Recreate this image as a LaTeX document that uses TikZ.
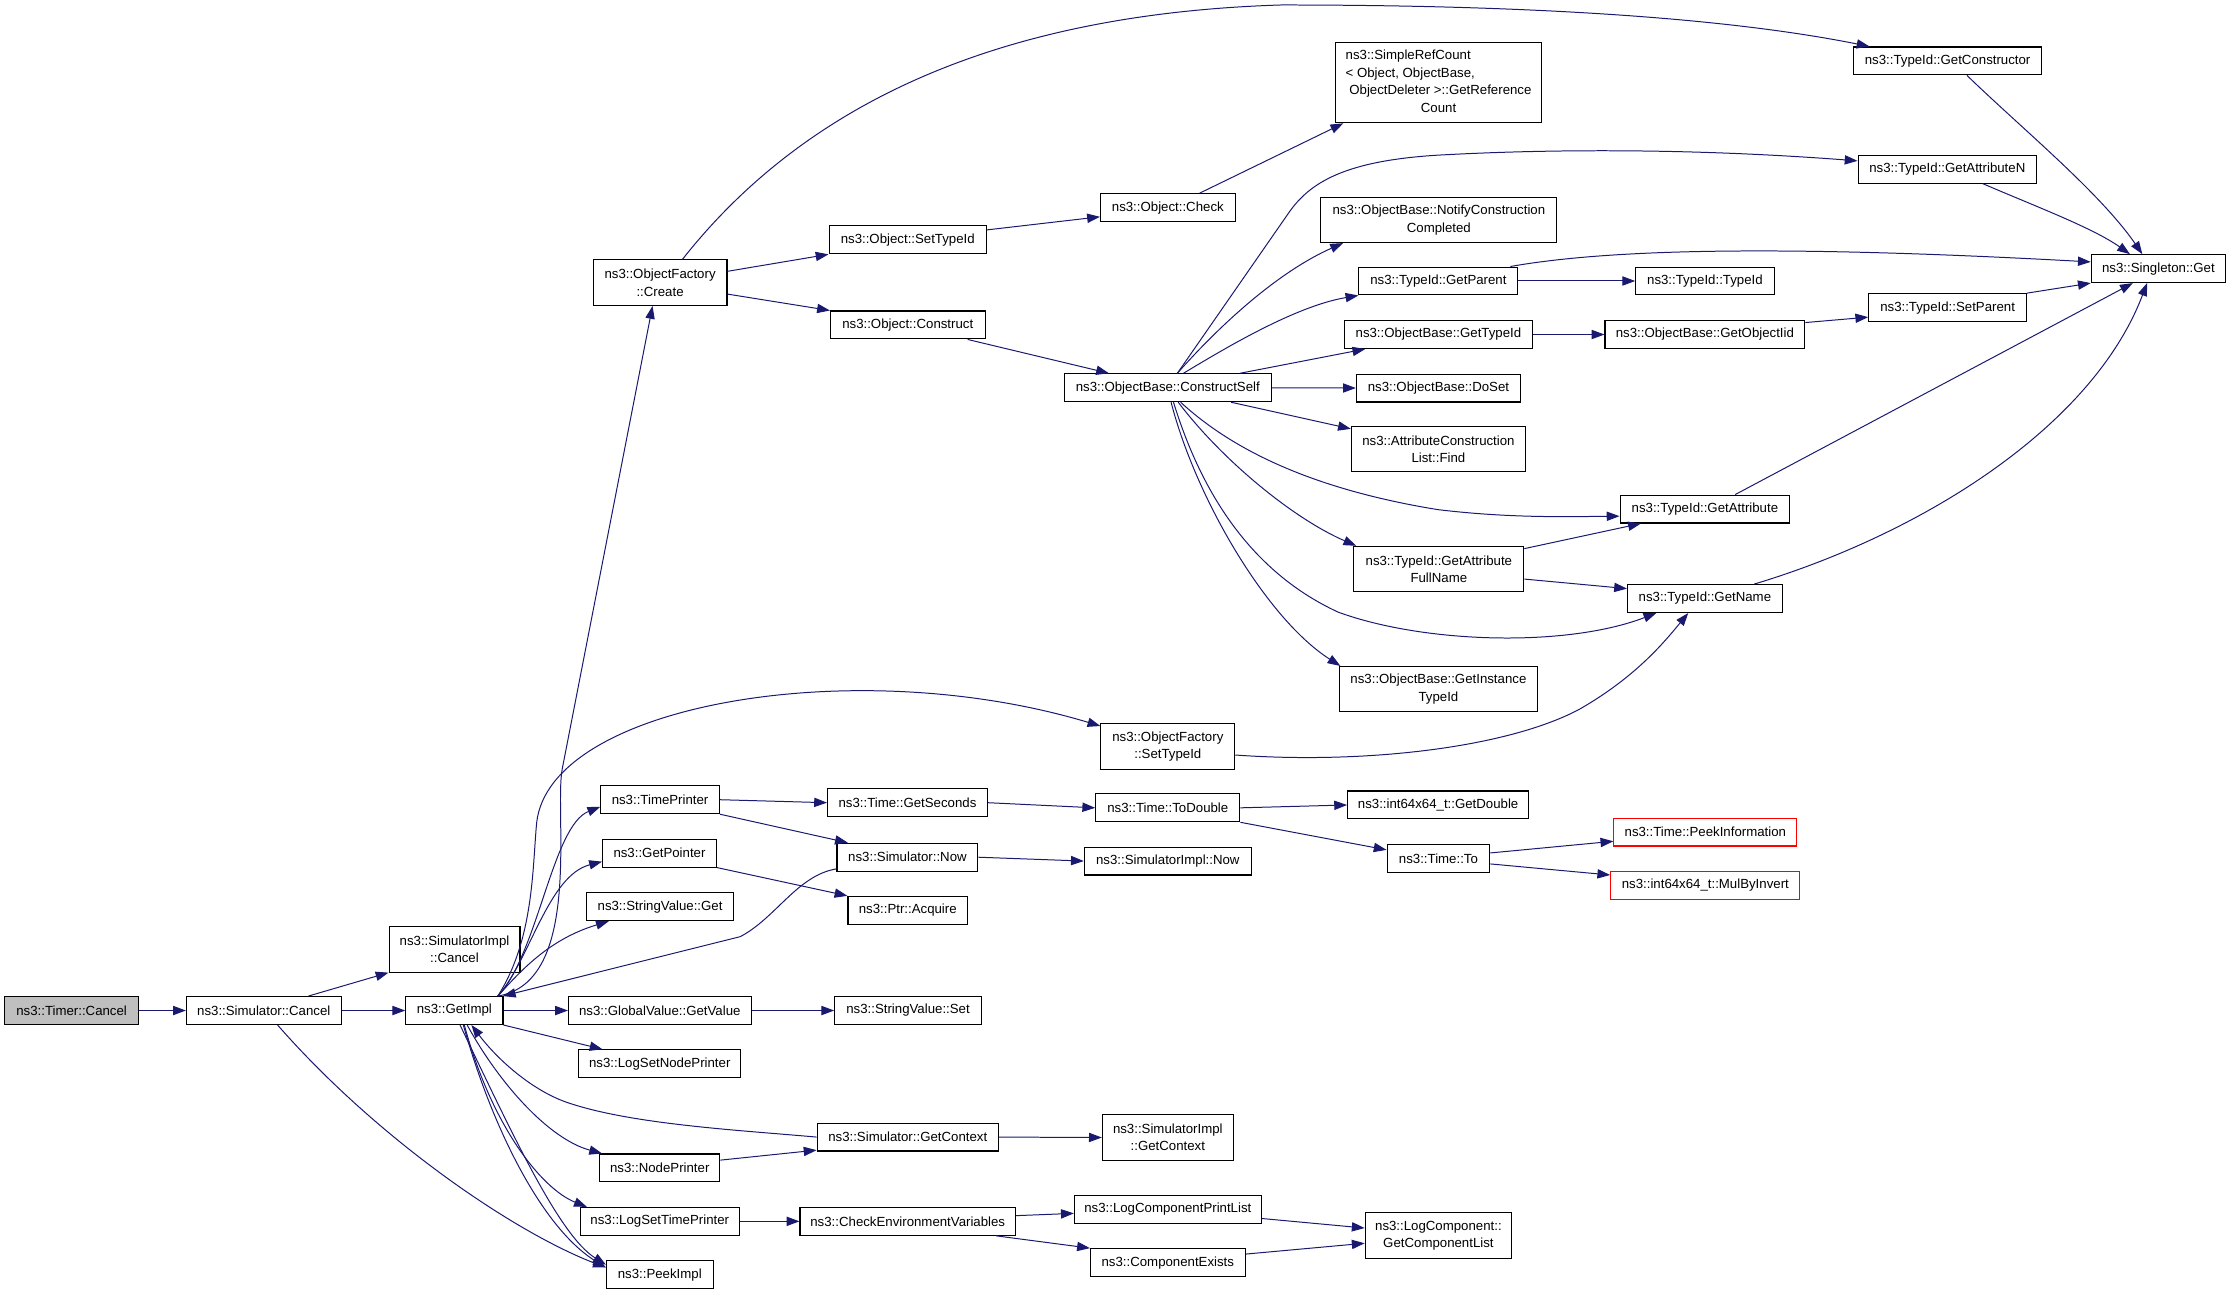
\documentclass[tikz,border=0pt]{standalone}
\usepackage{xcolor}
\usepackage{fontspec}
\setmainfont{Liberation Sans}
\usepackage{tikz}
\usetikzlibrary{arrows.meta,positioning}

\definecolor{edgeblue}{HTML}{191970}
\definecolor{rootgray}{HTML}{BFBFBF}

\begin{document}
\begin{tikzpicture}[x=1pt,y=-1pt]
  \tikzset{fnode/.style={draw=black,line width=0.75pt,rectangle,inner sep=2pt,
             minimum height=19.6pt,align=center,
             font=\fontsize{9.3pt}{12.2pt}\selectfont}}
  \tikzset{rootnode/.style={fnode,fill=rootgray}}
  \tikzset{trunc/.style={fnode,draw=red}}
  \tikzset{callarrow/.style={draw=edgeblue,line width=0.7pt,
             -{Triangle[length=9pt,width=6.5pt]}}}
  \useasboundingbox (0,0) rectangle (1568,909.7);

  % column 1-3
  \node[rootnode,minimum width=94pt] (timer) at (50.3,709.9) {ns3::Timer::Cancel};
  \node[fnode,minimum width=108.7pt] (simcancel) at (185.3,709.9) {ns3::Simulator::Cancel};
  \node[fnode,minimum width=92pt,minimum height=31.8pt] (implcancel) at (319.3,667) {ns3::SimulatorImpl\\::Cancel};
  \node[fnode,minimum width=68.3pt] (getimpl) at (319.2,709.9) {ns3::GetImpl};

  % column 4
  \node[fnode,minimum width=94pt,minimum height=32pt] (ofcreate) at (463.7,198.6) {ns3::ObjectFactory\\::Create};
  \node[fnode,minimum width=83.3pt] (timeprinter) at (463.7,561.8) {ns3::TimePrinter};
  \node[fnode,minimum width=80pt] (getpointer) at (463.3,599.3) {ns3::GetPointer};
  \node[fnode,minimum width=103.3pt] (svget) at (463.7,637) {ns3::StringValue::Get};
  \node[fnode,minimum width=128.3pt] (globalvalue) at (463.5,709.9) {ns3::GlobalValue::GetValue};
  \node[fnode,minimum width=113.7pt] (logsetnode) at (463.5,747.3) {ns3::LogSetNodePrinter};
  \node[fnode,minimum width=84.3pt] (nodeprinter) at (463.5,820.5) {ns3::NodePrinter};
  \node[fnode,minimum width=111.7pt] (logsettime) at (463.5,858) {ns3::LogSetTimePrinter};
  \node[fnode,minimum width=75pt] (peekimpl) at (463.5,895.6) {ns3::PeekImpl};

  % column 5
  \node[fnode,minimum width=110.6pt] (objsettypeid) at (637.7,168.5) {ns3::Object::SetTypeId};
  \node[fnode,minimum width=108.6pt] (objconstruct) at (637.7,228.3) {ns3::Object::Construct};
  \node[fnode,minimum width=112.3pt] (getseconds) at (637.5,563.9) {ns3::Time::GetSeconds};
  \node[fnode,minimum width=99pt] (simnow) at (637.5,602.2) {ns3::Simulator::Now};
  \node[fnode,minimum width=84pt] (ptracquire) at (637.7,639.5) {ns3::Ptr::Acquire};
  \node[fnode,minimum width=103pt] (svset) at (637.9,709.9) {ns3::StringValue::Set};
  \node[fnode,minimum width=127.4pt] (getcontext) at (637.7,798.8) {ns3::Simulator::GetContext};
  \node[fnode,minimum width=151.4pt] (checkenv) at (637.7,858) {ns3::CheckEnvironmentVariables};

  % column 6
  \node[fnode,minimum width=94.6pt] (objcheck) at (820.4,145.9) {ns3::Object::Check};
  \node[fnode,minimum width=145.3pt] (constructself) at (820.4,272.4) {ns3::ObjectBase::ConstructSelf};
  \node[fnode,minimum width=94pt,minimum height=32pt] (ofsettypeid) at (820.4,524.4) {ns3::ObjectFactory\\::SetTypeId};
  \node[fnode,minimum width=101.3pt] (todouble) at (820.4,567.5) {ns3::Time::ToDouble};
  \node[fnode,minimum width=117.3pt] (simimplnow) at (820.4,604.9) {ns3::SimulatorImpl::Now};
  \node[fnode,minimum width=92pt,minimum height=31.8pt] (simimplgetcontext) at (820.4,799.1) {ns3::SimulatorImpl\\::GetContext};
  \node[fnode,minimum width=131.3pt] (logcompprint) at (820.4,849.4) {ns3::LogComponentPrintList};
  \node[fnode,minimum width=108.7pt] (compexists) at (820.4,887) {ns3::ComponentExists};

  % column 7
  \node[fnode,minimum width=145.1pt,minimum height=56.5pt] (simplerefcount) at (1010.6,58)
    {\begin{tabular}{@{}l@{}}ns3::SimpleRefCount\\< Object, ObjectBase,\\\ ObjectDeleter >::GetReference\\\multicolumn{1}{@{}c@{}}{Count}\end{tabular}};
  \node[fnode,minimum width=165.9pt,minimum height=31.8pt] (notify) at (1010.8,154.5) {ns3::ObjectBase::NotifyConstruction\\Completed};
  \node[fnode,minimum width=111.7pt] (getparent) at (1010.5,197.4) {ns3::TypeId::GetParent};
  \node[fnode,minimum width=132pt] (obgettypeid) at (1010.5,235) {ns3::ObjectBase::GetTypeId};
  \node[fnode,minimum width=115.3pt] (doset) at (1010.5,272.6) {ns3::ObjectBase::DoSet};
  \node[fnode,minimum width=122.3pt,minimum height=31.7pt] (attrfind) at (1010.5,315.5) {ns3::AttributeConstruction\\List::Find};
  \node[fnode,minimum width=119.3pt,minimum height=32pt] (fullname) at (1010.8,399.8) {ns3::TypeId::GetAttribute\\FullName};
  \node[fnode,minimum width=139pt,minimum height=31.8pt] (instancetypeid) at (1010.5,484.1) {ns3::ObjectBase::GetInstance\\TypeId};
  \node[fnode,minimum width=127.2pt] (getdouble) at (1010.3,565.5) {ns3::int64x64\_t::GetDouble};
  \node[fnode,minimum width=72.1pt] (timeto) at (1010.5,603.2) {ns3::Time::To};
  \node[fnode,minimum width=102.9pt,minimum height=31.8pt] (getcomplist) at (1010.5,867.9) {ns3::LogComponent::\\GetComponentList};

  % column 8-9
  \node[fnode,minimum width=132pt] (getconstructor) at (1368.2,42.8) {ns3::TypeId::GetConstructor};
  \node[fnode,minimum width=125.4pt] (getattrn) at (1368,118.8) {ns3::TypeId::GetAttributeN};
  \node[fnode,minimum width=97.2pt] (typeidtypeid) at (1197.7,197.4) {ns3::TypeId::TypeId};
  \node[fnode,minimum width=140.4pt] (getobjectiid) at (1197.7,235) {ns3::ObjectBase::GetObjectIid};
  \node[fnode,minimum width=110.8pt] (setparent) at (1368.2,216.1) {ns3::TypeId::SetParent};
  \node[fnode,minimum width=119.2pt] (getattribute) at (1197.7,357.6) {ns3::TypeId::GetAttribute};
  \node[fnode,minimum width=108.7pt] (getname) at (1197.7,420.5) {ns3::TypeId::GetName};
  \node[fnode,minimum width=94.3pt] (singleton) at (1516.3,188.7) {ns3::Singleton::Get};
  \node[trunc,minimum width=128.5pt] (peekinfo) at (1198,584.5) {ns3::Time::PeekInformation};
  \node[trunc,minimum width=132.9pt] (mulbyinvert) at (1198,621.9) {ns3::int64x64\_t::MulByInvert};

  % Timer::Cancel, Simulator::Cancel
  \draw[callarrow] (timer.east) -- (simcancel.west);
  \draw[callarrow] ([xshift=31.4pt]simcancel.north) -- (implcancel.south west);
  \draw[callarrow] (simcancel.east) -- (getimpl.west);
  \draw[callarrow] ([xshift=9.7pt]simcancel.south) .. controls (265,800) and (360,865) .. ([yshift=-5pt]peekimpl.north west);

  % GetImpl, upwards
  \draw[callarrow] ([xshift=-4pt]getimpl.north east) .. controls (410,690) and (389,571) .. (395,540)
    -- ([xshift=-5.3pt]ofcreate.south);
  \draw[callarrow] ([xshift=-4pt]getimpl.north east) .. controls (375,660) and (374,610) .. (377,578)
    .. controls (386,495) and (600,458) .. ([yshift=-2pt]ofsettypeid.north west);
  \draw[callarrow] ([xshift=-4pt]getimpl.north east) .. controls (378,670) and (388,580) .. ([yshift=-5pt]timeprinter.west);
  \draw[callarrow] ([xshift=-4pt]getimpl.north east) .. controls (372,675) and (385,615) .. ([yshift=-6pt]getpointer.west);
  \draw[callarrow] ([xshift=-4pt]getimpl.north east) .. controls (365,683) and (385,660) .. ([xshift=16pt]svget.south west);
  \draw[callarrow] ([yshift=2pt]simnow.south west) .. controls (560,615) and (545,645) .. (520,658)
    -- ([xshift=-0.5pt]getimpl.north east);

  % GetImpl, sideways and downwards
  \draw[callarrow] (getimpl.east) -- (globalvalue.west);
  \draw[callarrow] (getimpl.south east) -- ([xshift=17pt]logsetnode.north west);
  \draw[callarrow] (getcontext.west) .. controls (520,794) and (445,790) .. (400,775)
    .. controls (375,767) and (350,745) .. ([xshift=12pt]getimpl.south);
  \draw[callarrow] ([xshift=9pt]getimpl.south) .. controls (350,760) and (385,800) .. ([xshift=2pt]nodeprinter.north west);
  \draw[callarrow] ([xshift=7pt]getimpl.south) .. controls (345,790) and (380,835) .. ([xshift=5pt]logsettime.north west);
  \draw[callarrow] ([xshift=4pt]getimpl.south) .. controls (360,797) and (393,868) .. ([yshift=-3pt]peekimpl.north west);
  \draw[callarrow] ([xshift=6.3pt]getimpl.south) .. controls (345,790) and (380,862) .. ([yshift=-5pt]peekimpl.north west);

  % printers, values
  \draw[callarrow] (timeprinter.east) -- (getseconds.west);
  \draw[callarrow] (timeprinter.south east) -- ([xshift=8pt]simnow.north west);
  \draw[callarrow] (getpointer.south east) -- (ptracquire.north west);
  \draw[callarrow] (globalvalue.east) -- (svset.west);
  \draw[callarrow] ([yshift=5.5pt]nodeprinter.east) -- ([yshift=1pt]getcontext.south west);
  \draw[callarrow] (logsettime.east) -- (checkenv.west);

  % ObjectFactory::Create
  \draw[callarrow] ([yshift=8pt]ofcreate.east) -- (objsettypeid.south west);
  \draw[callarrow] ([yshift=-8pt]ofcreate.east) -- (objconstruct.north west);
  \draw[callarrow] ([xshift=15.7pt]ofcreate.north) .. controls (560,80) and (690,10) .. (900,3.5)
    .. controls (1050,3.5) and (1200,10) .. ([xshift=11.5pt]getconstructor.north west);
  \draw[callarrow] ([yshift=7pt]objsettypeid.east) -- ([yshift=-6.4pt]objcheck.west);
  \draw[callarrow] ([xshift=22.3pt]objcheck.north) -- ([xshift=6pt]simplerefcount.south west);
  \draw[callarrow] ([xshift=-12.6pt]objconstruct.south east) -- ([xshift=31.7pt]constructself.north west);

  % ConstructSelf
  \draw[callarrow] ([xshift=6.7pt]constructself.north) -- (905,150) .. controls (920,128) and (945,113) .. (1010,109)
    .. controls (1100,104) and (1200,105) .. ([yshift=5.8pt]getattrn.west);
  \draw[callarrow] ([xshift=6.7pt]constructself.north) .. controls (860,225) and (900,190) .. ([xshift=16pt]notify.south west);
  \draw[callarrow] ([xshift=11pt]constructself.north) .. controls (860,245) and (910,215) .. (getparent.south west);
  \draw[callarrow] ([xshift=50.7pt]constructself.north) -- ([xshift=15pt]obgettypeid.south west);
  \draw[callarrow] (constructself.east) -- (doset.west);
  \draw[callarrow] ([xshift=-28.6pt]constructself.south east) -- ([yshift=-2pt]attrfind.north west);
  \draw[callarrow] ([xshift=9pt]constructself.south) .. controls (870,320) and (930,345) .. (1010,358)
    .. controls (1060,364) and (1100,363) .. ([yshift=-5pt]getattribute.west);
  \draw[callarrow] ([xshift=7.3pt]constructself.south) .. controls (860,325) and (910,365) .. ([xshift=2pt]fullname.north west);
  \draw[callarrow] ([xshift=4pt]constructself.south) .. controls (842,340) and (875,400) .. (940,430)
    .. controls (1000,452) and (1100,455) .. ([xshift=20.6pt]getname.south west);
  \draw[callarrow] ([xshift=2.3pt]constructself.south) .. controls (840,350) and (890,435) .. ([xshift=1pt]instancetypeid.north west);

  % TypeId
  \draw[callarrow] ([xshift=13.6pt]getconstructor.south) .. controls (1420,90) and (1475,135) .. ([xshift=-11.3pt]singleton.north);
  \draw[callarrow] ([xshift=24.8pt]getattrn.south) .. controls (1430,145) and (1470,160) .. ([xshift=-20pt]singleton.north);
  \draw[callarrow] ([xshift=-5.7pt]getparent.north east) .. controls (1130,175) and (1250,172) .. ([yshift=4.7pt]singleton.west);
  \draw[callarrow] (getparent.east) -- (typeidtypeid.west);
  \draw[callarrow] (setparent.north east) -- (singleton.south west);
  \draw[callarrow] (obgettypeid.east) -- (getobjectiid.west);
  \draw[callarrow] ([yshift=8.4pt]getobjectiid.east) -- ([yshift=-6.7pt]setparent.west);
  \draw[callarrow] ([xshift=21.3pt]getattribute.north) -- ([xshift=-18pt]singleton.south);
  \draw[callarrow] ([xshift=34.6pt]getname.north) .. controls (1350,375) and (1470,300) .. ([xshift=-8pt]singleton.south);
  \draw[callarrow] ([yshift=-2pt]fullname.north east) -- ([xshift=15pt]getattribute.south west);
  \draw[callarrow] ([yshift=-7pt]fullname.east) -- ([yshift=7pt]getname.west);
  \draw[callarrow] ([yshift=-6pt]ofsettypeid.east) .. controls (960,537) and (1060,525) .. (1110,498)
    .. controls (1150,475) and (1170,450) .. ([xshift=-11.7pt]getname.south);

  % Time
  \draw[callarrow] (getseconds.east) -- (todouble.west);
  \draw[callarrow] (todouble.east) -- (getdouble.west);
  \draw[callarrow] (todouble.south east) -- ([yshift=-4pt]timeto.north west);
  \draw[callarrow] ([yshift=4pt]timeto.east) -- ([yshift=-6.5pt]peekinfo.west);
  \draw[callarrow] ([yshift=-3.7pt]timeto.east) -- ([yshift=7.2pt]mulbyinvert.west);
  \draw[callarrow] (simnow.east) -- (simimplnow.west);
  \draw[callarrow] (getcontext.east) -- (simimplgetcontext.west);

  % log components
  \draw[callarrow] ([yshift=4pt]checkenv.east) -- ([yshift=-3pt]logcompprint.west);
  \draw[callarrow] ([xshift=-14pt]checkenv.south east) -- (compexists.north west);
  \draw[callarrow] ([yshift=-6.6pt]logcompprint.east) -- ([yshift=5.2pt]getcomplist.west);
  \draw[callarrow] ([yshift=6pt]compexists.east) -- ([yshift=-5.5pt]getcomplist.west);
\end{tikzpicture}
\end{document}
